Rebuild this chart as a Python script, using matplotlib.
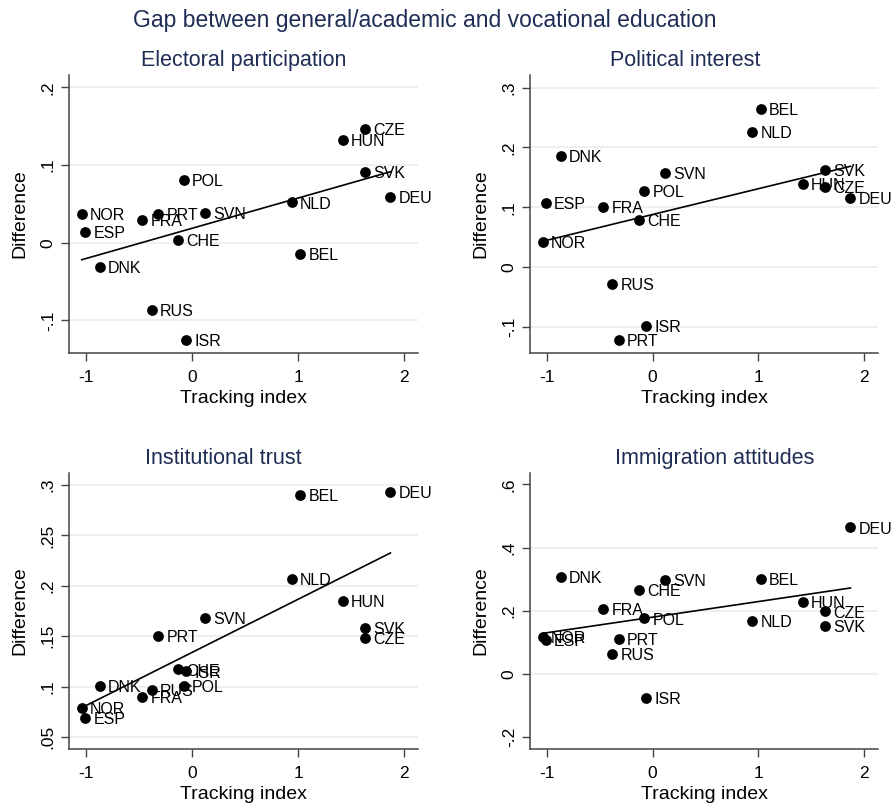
import numpy as np
import matplotlib.pyplot as plt

plt.rcParams['font.family'] = ['Liberation Sans', 'DejaVu Sans']

countries = ['NOR', 'ESP', 'DNK', 'FRA', 'RUS', 'PRT', 'CHE', 'POL', 'ISR',
             'SVN', 'NLD', 'BEL', 'HUN', 'CZE', 'SVK', 'DEU']
tracking = [-1.04, -1.01, -0.87, -0.47, -0.38, -0.32, -0.13, -0.08, -0.06,
            0.12, 0.94, 1.02, 1.42, 1.63, 1.63, 1.87]

electoral = [0.037, 0.014, -0.031, 0.029, -0.087, 0.037, 0.004, 0.081, -0.125,
             0.038, 0.052, -0.014, 0.132, 0.147, 0.091, 0.059]
political = [0.042, 0.108, 0.186, 0.101, -0.028, -0.121, 0.079, 0.127, -0.098,
             0.158, 0.226, 0.264, 0.139, 0.134, 0.162, 0.116]
trust = [0.079, 0.069, 0.101, 0.090, 0.097, 0.150, 0.117, 0.101, 0.115,
         0.168, 0.207, 0.290, 0.185, 0.148, 0.158, 0.293]
immigration = [0.117, 0.109, 0.308, 0.207, 0.063, 0.110, 0.267, 0.176, -0.077,
               0.297, 0.167, 0.302, 0.229, 0.198, 0.152, 0.464]

titles = ['Electoral participation', 'Political interest',
          'Institutional trust', 'Immigration attitudes']
series = [electoral, political, trust, immigration]
yticks = [[-0.1, 0, 0.1, 0.2], [-0.1, 0, 0.1, 0.2, 0.3],
          [0.05, 0.1, 0.15, 0.2, 0.25, 0.3], [-0.2, 0, 0.2, 0.4, 0.6]]
yticklabels = [['-.1', '0', '.1', '.2'], ['-.1', '0', '.1', '.2', '.3'],
               ['.05', '.1', '.15', '.2', '.25', '.3'], ['-.2', '0', '.2', '.4', '.6']]
ylims = [(-0.142, 0.216), (-0.143, 0.321), (0.038, 0.312), (-0.2375, 0.636)]
gridded = [[-0.1, 0, 0.1, 0.2], [-0.1, 0, 0.1, 0.2, 0.3],
           [0.05, 0.1, 0.15, 0.2, 0.25, 0.3], [0, 0.2, 0.4]]

navy = '#1F2D55'
spine = '#444444'

fig = plt.figure(figsize=(8.94, 8.10), dpi=100)
fig.text(0.475, 0.975, 'Gap between general/academic and vocational education',
         ha='center', va='center', fontsize=16.5, color=navy)

positions = [[0.0772, 0.5642, 0.3904, 0.3432], [0.5928, 0.5642, 0.3893, 0.3432],
             [0.0772, 0.0753, 0.3904, 0.3407], [0.5928, 0.0753, 0.3893, 0.3407]]
title_x = [0.5, 0.445, 0.441, 0.532]

x = np.array(tracking)
for i in range(4):
    ax = fig.add_axes(positions[i])
    y = np.array(series[i])
    for g in gridded[i]:
        ax.axhline(g, color='#E8F0F2', lw=1.3, zorder=0)
    ax.scatter(x, y, s=60, color='black', linewidths=0, zorder=3)
    b, a = np.polyfit(x, y, 1)
    xs = np.array([x.min(), x.max()])
    ax.plot(xs, a + b * xs, color='black', lw=1.2, zorder=2)
    for c, xi, yi in zip(countries, x, y):
        ax.annotate(c, (xi, yi), xytext=(6, -1.2), textcoords='offset points',
                    ha='left', va='center', fontsize=11.5, zorder=4)
    ax.set_xlim(-1.16, 2.13)
    ax.set_ylim(*ylims[i])
    ax.set_xticks([-1, 0, 1, 2])
    ax.set_xticklabels(['-1', '0', '1', '2'])
    ax.set_yticks(yticks[i])
    ax.set_yticklabels(yticklabels[i], rotation=90, va='center')
    ax.tick_params(direction='out', length=5.5, width=1, color=spine, labelsize=12.5)
    ax.tick_params(axis='x', pad=7)
    ax.tick_params(axis='y', pad=4)
    for s in ['top', 'right']:
        ax.spines[s].set_visible(False)
    for s in ['left', 'bottom']:
        ax.spines[s].set_color(spine)
        ax.spines[s].set_linewidth(1.1)
    ax.set_xlabel('Tracking index', fontsize=14, labelpad=3)
    ax.set_ylabel('Difference', fontsize=14, labelpad=9)
    ax.set_title(titles[i], fontsize=15.5, color=navy, pad=6.7, x=title_x[i])

fig.savefig('out.png', dpi=100)
